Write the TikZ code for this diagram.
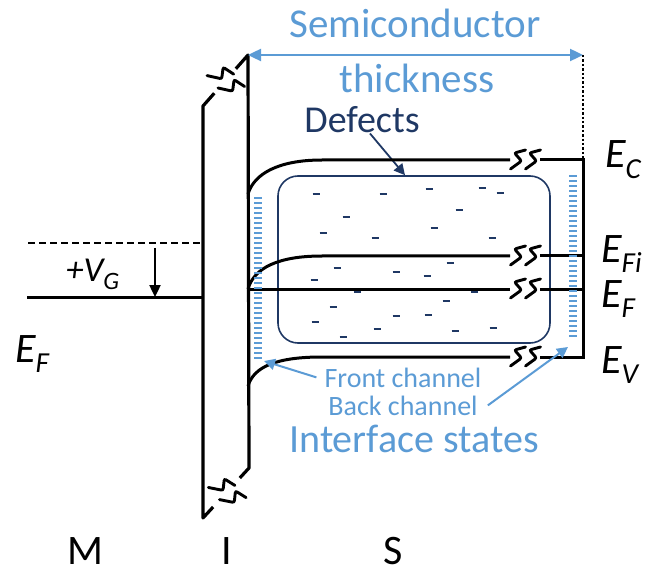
\documentclass[tikz,border=0pt]{standalone}
\usepackage{fontspec}
\setmainfont{Carlito}
\usepackage{tikz}
\usetikzlibrary{arrows.meta,calc}

\definecolor{ifblue}{HTML}{5B9BD5}
\definecolor{defnavy}{HTML}{1F3864}

\newcommand{\fsz}[1]{\fontsize{#1}{#1}\selectfont}
\newcommand{\lvsub}[2]{\raisebox{-0.24em}{\fsz{#1}#2}}

\tikzset{
  brkpair/.pic={
    \foreach \dx in {-7.5,7.5}
      \draw[zig] (\dx+8,-10) -- (\dx-3,-7) -- (\dx+4,1) -- (\dx-7,9);
  }
}

\begin{document}
\begin{tikzpicture}[
x=1pt, y=-1pt,
font=\fsz{28},
band/.style={line width=3pt},
wall/.style={line width=3.2pt, line join=round},
zig/.style={line width=2.9pt, line cap=round, rounded corners=2pt},
ifs/.style={ifblue, line width=2pt},
dft/.style={defnavy, line width=2pt},
lbl/.style={inner sep=0pt, anchor=base},
elbl/.style={inner sep=0pt, anchor=base west, font=\fsz{42}\itshape},
bluetxt/.style={lbl, text=ifblue},
defbox/.style={draw=defnavy, line width=1.6pt, rounded corners=20pt, minimum width=272pt, minimum height=167pt, inner sep=0pt},
blarr/.style={ifblue, line width=2pt, -{Triangle[length=11pt, width=11pt]}},
nvarr/.style={defnavy, line width=1.8pt, -{Triangle[length=11pt, width=11pt]}},
blkarr/.style={line width=2.4pt, -{Triangle[length=12pt, width=11pt]}}
]
\useasboundingbox (0,0) rectangle (646,575);

% Insulator
\coordinate (itl) at (203,106);
\coordinate (itr) at (248,55);
\coordinate (ibl) at (203,518);
\coordinate (ibr) at (249,468);
\draw[wall] ($(itl)!0.25!(itr)$) -- (itl) -- (ibl) -- ($(ibl)!0.22!(ibr)$);
\draw[wall] ($(itl)!0.73!(itr)$) -- (itr) -- (ibr) -- ($(ibl)!0.80!(ibr)$);
\pic[rotate=-48.6, scale=1.1] at ($(itl)!0.49!(itr)$) {brkpair};
\pic[rotate=-47.4, scale=1.1] at ($(ibl)!0.51!(ibr)$) {brkpair};

% Metal side
\coordinate (vgt) at (155,248);
\coordinate (vgb) at (155,297);
\draw[line width=2.6pt, dash pattern=on 7pt off 4pt] (28,243) -- (203,243);
\draw[band] (27,297) -- (203,297);
\draw[blkarr] (vgt) -- (vgb);
\node[lbl, anchor=base west, font=\fsz{35}\itshape] (vg) at (66,281) {+V\lvsub{25}{G}};
\node[elbl] (efm) at (15,362) {E\lvsub{29}{F}};

% Semiconductor thickness
\coordinate (sr) at (583,55);
\draw[ifblue, line width=2.4pt, {Triangle[length=13pt, width=12pt]}-{Triangle[length=13pt, width=12pt]}] (itr) -- (sr);
\draw[line width=2.4pt, dotted] (sr) -- (583,160);
\node[bluetxt, font=\fsz{41}] (semi) at (415,38) {Semiconductor};
\node[bluetxt, font=\fsz{41}] (thick) at (417,93) {thickness};

% Defects
\node[defbox] (defects) at (414,259.5) {};
\foreach \px/\py in {316/194, 383/194, 429/189, 482/188, 500/193, 346/217, 459/210,
  323/233, 434/228, 375/238, 492/238, 337/268, 450/263, 396/272, 427/276,
  314/280, 357/292, 474/292, 446/301, 333/307, 396/316, 428/315, 315/322,
  377/329, 455/331, 493/328, 343/337}
  \draw[dft] (\px-3.5,\py) -- ++(7,0);
\node[lbl, text=defnavy, font=\fsz{38}] (deflbl) at (362,133) {Defects};
\draw[nvarr] ([xshift=8pt]deflbl.south) -- ([xshift=-9pt]defects.north);

% Bands
\draw[band] (248,194) .. controls (254,174) and (278,160) .. (322,160) -- (510,160);
\draw[band] (248,289) .. controls (254,268) and (278,256) .. (322,256) -- (510,256);
\draw[band] (248,289) -- (510,289);
\draw[band] (248,386) .. controls (254,366) and (278,357) .. (322,357) -- (510,357);
\draw[band] (540,160) -- (583,160) -- (583,357) -- (540,357);
\draw[band] (540,256) -- (583,256);
\draw[band] (540,289) -- (583,289);
\foreach \yy in {160,256,289,357}
  \pic at (525,\yy) {brkpair};

\node[elbl] (ec) at (605,168) {E\lvsub{29}{C}};
\node[elbl] (efi) at (601,262) {E\lvsub{29}{Fi}};
\node[elbl] (ef) at (601,307) {E\lvsub{29}{F}};
\node[elbl] (ev) at (601,373) {E\lvsub{29}{V}};

% Interface states
\foreach \yy in {198,203,...,358}
  \draw[ifs] (254,\yy) -- ++(8,0);
\foreach \yy in {176,181,...,336}
  \draw[ifs] (569,\yy) -- ++(8,0);
\coordinate (fcs) at (264,361);
\coordinate (bcs) at (568,347);
\node[bluetxt, font=\fsz{28}] (front) at (403,387) {Front channel};
\node[bluetxt, font=\fsz{28}] (back) at (403,415) {Back channel};
\node[bluetxt, font=\fsz{40}] (ifst) at (414,452) {Interface states};
\draw[blarr] ([xshift=-8pt]front.west) -- (fcs);
\draw[blarr] ([xshift=10pt]back.east) -- (bcs);

% Layers
\node[lbl, font=\fsz{42}] (mlbl) at (85,564) {M};
\node[lbl, font=\fsz{42}] (ilbl) at (227,564) {I};
\node[lbl, font=\fsz{42}] (slbl) at (393,564) {S};
\end{tikzpicture}
\end{document}
